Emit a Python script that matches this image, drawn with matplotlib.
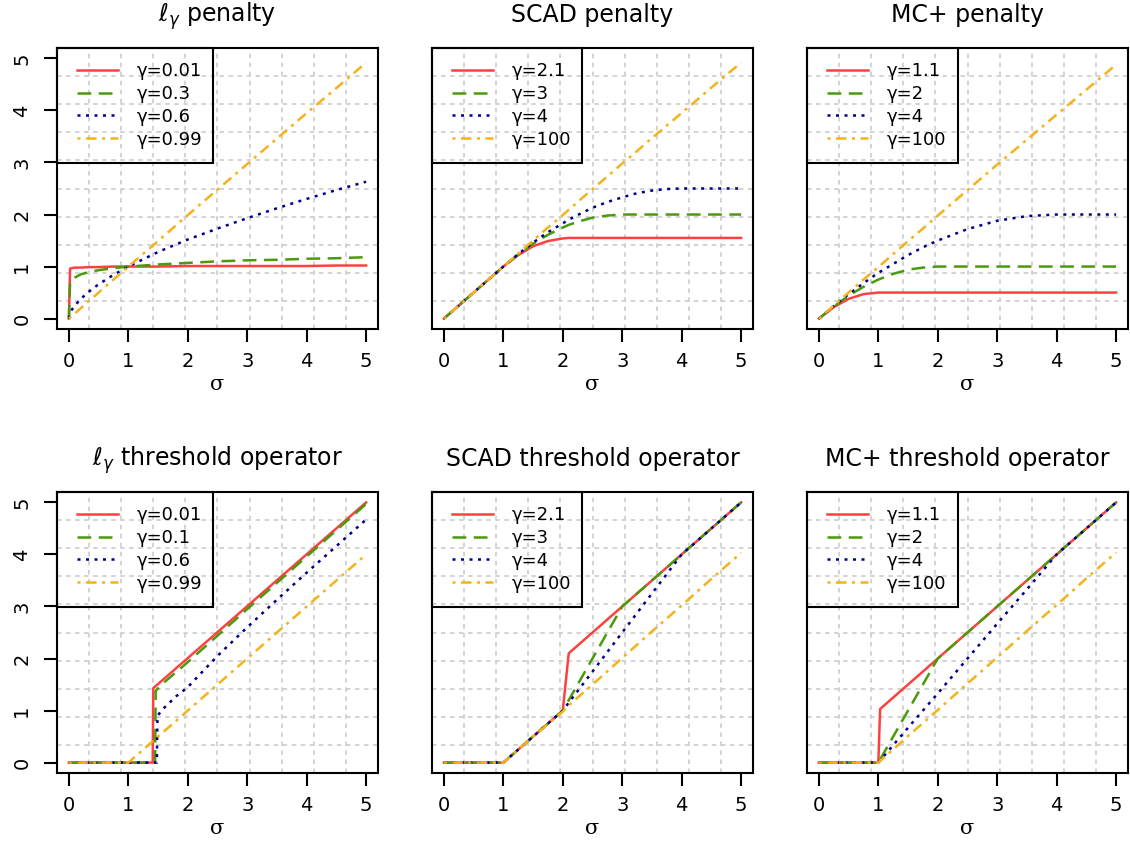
import matplotlib
matplotlib.use("Agg")
import matplotlib.pyplot as plt
from matplotlib.patches import Rectangle
import numpy as np

plt.rcParams['font.family'] = ['DejaVu Sans']
plt.rcParams['mathtext.fontset'] = 'dejavusans'

# ---- l_gamma penalty ----
lg_pen_x = [0, 0.02, 0.05, 0.1, 0.2, 0.35, 0.5, 0.75, 1, 1.5, 2, 2.5, 3, 3.5, 4, 4.5, 5]
lg_pen_g001 = [0, 0.96, 0.97, 0.98, 0.98, 0.99, 0.99, 1.0, 1.0, 1.0, 1.01, 1.01, 1.01, 1.01, 1.01, 1.02, 1.02]
lg_pen_g03 = [0, 0.68, 0.74, 0.79, 0.85, 0.90, 0.93, 0.97, 1.0, 1.04, 1.07, 1.10, 1.12, 1.13, 1.15, 1.16, 1.18]
lg_pen_g06 = [0, 0.10, 0.17, 0.25, 0.38, 0.53, 0.66, 0.84, 1.0, 1.28, 1.52, 1.73, 1.93, 2.12, 2.30, 2.47, 2.63]
lg_pen_g099 = [0, 0.02, 0.05, 0.10, 0.20, 0.35, 0.50, 0.75, 1.0, 1.49, 1.99, 2.48, 2.97, 3.46, 3.95, 4.43, 4.92]

# ---- SCAD penalty ----
scad_pen_x = [0, 0.5, 1, 1.25, 1.5, 1.75, 2, 2.1, 2.25, 2.5, 2.75, 3, 3.25, 3.5, 3.75, 4, 4.5, 5]
scad_pen_g21 = [0, 0.5, 1, 1.22, 1.39, 1.49, 1.54, 1.55, 1.55, 1.55, 1.55, 1.55, 1.55, 1.55, 1.55, 1.55, 1.55, 1.55]
scad_pen_g3 = [0, 0.5, 1, 1.23, 1.44, 1.61, 1.75, 1.80, 1.86, 1.94, 1.98, 2.0, 2.0, 2.0, 2.0, 2.0, 2.0, 2.0]
scad_pen_g4 = [0, 0.5, 1, 1.24, 1.46, 1.66, 1.83, 1.90, 1.99, 2.13, 2.24, 2.33, 2.41, 2.46, 2.49, 2.5, 2.5, 2.5]
scad_pen_g100 = [0, 0.5, 1, 1.25, 1.50, 1.75, 1.99, 2.09, 2.24, 2.49, 2.73, 2.98, 3.22, 3.47, 3.71, 3.95, 4.44, 4.92]

# ---- MC+ penalty ----
mcp_pen_x = [0, 0.25, 0.5, 0.75, 1, 1.25, 1.5, 1.75, 2, 2.5, 3, 3.5, 4, 4.5, 5]
mcp_pen_g11 = [0, 0.22, 0.38, 0.47, 0.5, 0.5, 0.5, 0.5, 0.5, 0.5, 0.5, 0.5, 0.5, 0.5, 0.5]
mcp_pen_g2 = [0, 0.23, 0.44, 0.61, 0.75, 0.86, 0.94, 0.98, 1.0, 1.0, 1.0, 1.0, 1.0, 1.0, 1.0]
mcp_pen_g4 = [0, 0.24, 0.47, 0.68, 0.88, 1.05, 1.22, 1.37, 1.5, 1.72, 1.88, 1.97, 2.0, 2.0, 2.0]
mcp_pen_g100 = [0, 0.25, 0.50, 0.75, 0.99, 1.24, 1.49, 1.73, 1.98, 2.47, 2.96, 3.44, 3.92, 4.40, 4.88]

# ---- l_gamma threshold operator ----
lg_thr_x_g001 = [0, 1.41, 1.42, 5]
lg_thr_g001 = [0, 0, 1.43, 5]
lg_thr_x_g01 = [0, 1.45, 1.46, 1.6, 2, 2.5, 3, 4, 5]
lg_thr_g01 = [0, 0, 1.38, 1.54, 1.93, 2.44, 2.95, 3.96, 4.97]
lg_thr_x_g06 = [0, 1.48, 1.49, 1.6, 1.8, 2, 2.5, 3, 3.5, 4, 4.5, 5]
lg_thr_g06 = [0, 0, 0.9, 1.05, 1.27, 1.45, 2.05, 2.6, 3.13, 3.65, 4.16, 4.67]
lg_thr_x_g099 = [0, 1, 5]
lg_thr_g099 = [0, 0, 4.0]

# ---- SCAD threshold operator ----
scad_thr_x = [0, 0.5, 1, 1.5, 2, 2.1, 2.5, 3, 3.5, 4, 4.5, 5]
scad_thr_g21 = [0, 0, 0, 0.5, 1, 2.1, 2.5, 3, 3.5, 4, 4.5, 5]
scad_thr_g3 = [0, 0, 0, 0.5, 1, 1.2, 2.0, 3, 3.5, 4, 4.5, 5]
scad_thr_g4 = [0, 0, 0, 0.5, 1, 1.15, 1.75, 2.5, 3.25, 4, 4.5, 5]
scad_thr_g100 = [0, 0, 0, 0.5, 0.98, 1.10, 1.50, 2.01, 2.52, 3.02, 3.53, 4.03]

# ---- MC+ threshold operator ----
mcp_thr_x = [0, 0.5, 1, 1.03, 1.5, 2, 2.5, 3, 3.5, 4, 4.5, 5]
mcp_thr_g11 = [0, 0, 0, 1.03, 1.5, 2, 2.5, 3, 3.5, 4, 4.5, 5]
mcp_thr_g2 = [0, 0, 0, 0.06, 1.0, 2, 2.5, 3, 3.5, 4, 4.5, 5]
mcp_thr_g4 = [0, 0, 0, 0.04, 0.67, 1.33, 2.0, 2.67, 3.33, 4, 4.5, 5]
mcp_thr_g100 = [0, 0, 0, 0.03, 0.51, 1.01, 1.52, 2.02, 2.53, 3.03, 3.54, 4.04]

lg_pen_labels = ['γ=0.01', 'γ=0.3', 'γ=0.6', 'γ=0.99']
lg_thr_labels = ['γ=0.01', 'γ=0.1', 'γ=0.6', 'γ=0.99']
scad_labels = ['γ=2.1', 'γ=3', 'γ=4', 'γ=100']
mcp_labels = ['γ=1.1', 'γ=2', 'γ=4', 'γ=100']

colors = ['#FF4040', '#4A9A0C', '#00008B', '#F5B21A']
styles = ['-', (0, (5.5, 3.0)), (0, (1.2, 2.2)), (0, (1.2, 2.2, 4.2, 2.2))]

panels = [
    (r'$\ell_\gamma$ penalty', [lg_pen_x] * 4,
     [lg_pen_g001, lg_pen_g03, lg_pen_g06, lg_pen_g099], lg_pen_labels, True),
    ('SCAD penalty', [scad_pen_x] * 4,
     [scad_pen_g21, scad_pen_g3, scad_pen_g4, scad_pen_g100], scad_labels, False),
    ('MC+ penalty', [mcp_pen_x] * 4,
     [mcp_pen_g11, mcp_pen_g2, mcp_pen_g4, mcp_pen_g100], mcp_labels, False),
    (r'$\ell_\gamma$ threshold operator',
     [lg_thr_x_g001, lg_thr_x_g01, lg_thr_x_g06, lg_thr_x_g099],
     [lg_thr_g001, lg_thr_g01, lg_thr_g06, lg_thr_g099], lg_thr_labels, True),
    ('SCAD threshold operator', [scad_thr_x] * 4,
     [scad_thr_g21, scad_thr_g3, scad_thr_g4, scad_thr_g100], scad_labels, False),
    ('MC+ threshold operator', [mcp_thr_x] * 4,
     [mcp_thr_g11, mcp_thr_g2, mcp_thr_g4, mcp_thr_g100], mcp_labels, False),
]

W, H = 1130, 843
fig = plt.figure(figsize=(W / 100, H / 100), dpi=100)
lefts = [57, 432, 807]
tops = [48, 492]
aw, ah = 321, 281
legend_w = [156, 150, 151]

for i, (title, xs, ys, labels, show_y) in enumerate(panels):
    r, c = divmod(i, 3)
    ax = fig.add_axes([lefts[c] / W, (H - tops[r] - ah) / H, aw / W, ah / H])
    ax.set_xlim(-0.2, 5.2)
    ax.set_ylim(-0.2, 5.2)

    for g in np.linspace(-0.2, 5.2, 11)[1:-1]:
        ax.axvline(g, color='#D0D0D0', lw=1.3, ls=(0, (2.5, 2.5)), zorder=0)
        ax.axhline(g, color='#D0D0D0', lw=1.3, ls=(0, (2.5, 2.5)), zorder=0)

    for x, y, col, ls, lab in zip(xs, ys, colors, styles, labels):
        ax.plot(x, y, color=col, ls=ls, lw=1.8, label=lab)

    ax.legend(loc='upper left', bbox_to_anchor=(20 / aw, 1 - 14 / ah),
              frameon=False, borderpad=0, borderaxespad=0, fontsize=13,
              handlelength=2.25, handletextpad=1.05, labelspacing=0.27)
    ax.add_patch(Rectangle((0, 1 - 115 / ah), legend_w[c] / aw, 115 / ah,
                           transform=ax.transAxes, fill=False, ec='black',
                           lw=1.5, clip_on=False, zorder=5))

    ax.set_xticks(range(6))
    ax.tick_params(axis='x', length=9.5, width=1.5, pad=7, labelsize=14)
    if show_y:
        ax.set_yticks(range(6))
        ax.tick_params(axis='y', length=9.5, width=1.5, pad=9, labelsize=14)
        plt.setp(ax.get_yticklabels(), rotation=90, va='center')
    else:
        ax.set_yticks([])
    for s in ax.spines.values():
        s.set_linewidth(1.5)

    ax.set_title(title, fontsize=17, pad=19)
    ax.set_xlabel('σ', fontsize=15, family='DejaVu Serif', labelpad=3)

fig.savefig('out.png', dpi=100)
